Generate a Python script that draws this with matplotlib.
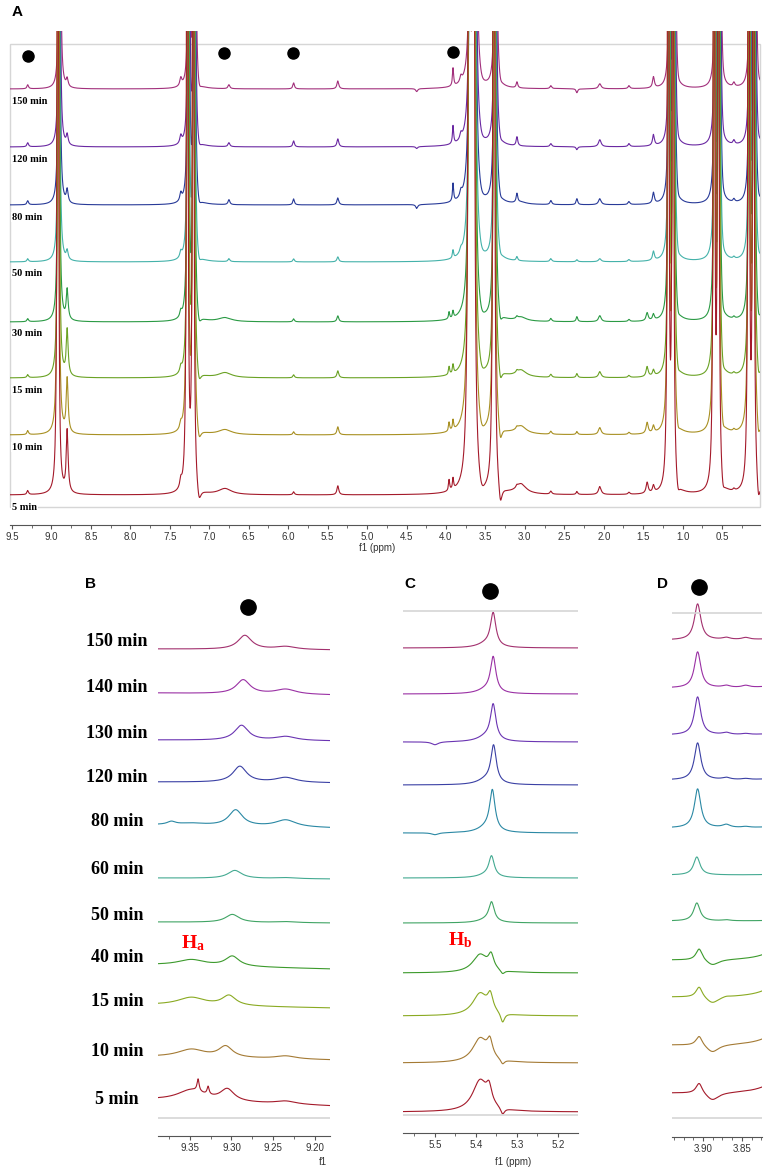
import numpy as np
import matplotlib.pyplot as plt
from matplotlib.patches import Rectangle
from matplotlib.ticker import MultipleLocator, FormatStrFormatter

plt.rcParams['mathtext.fontset'] = 'custom'
plt.rcParams['mathtext.bf'] = 'Liberation Serif:bold'
plt.rcParams['mathtext.rm'] = 'Liberation Serif'

W, H = 765, 1168

# ---------------- panel A: full spectra ----------------
A_labels = ['150 min', '120 min', '80 min', '50 min', '30 min', '15 min', '10 min', '5 min']
A_base_px = [89, 147, 205, 262, 322, 378, 435, 495]
A_colors = ['#a2307c', '#6a28a2', '#283a98', '#44b2aa', '#2a9a44', '#6aa224', '#a89022', '#a41a2a']

# off-scale signals
A_big_ppm = [8.905, 7.265, 7.19, 3.69, 3.64, 3.38, 1.17, 1.11, 0.59, 0.535, 0.15, 0.09]
A_big_hw = [0.005, 0.005, 0.005, 0.008, 0.008, 0.006, 0.005, 0.005, 0.005, 0.005, 0.005, 0.005]
A_big_h = [2500, 2500, 2500, 2500, 2500, 2500, 2500, 2500, 2500, 2500, 2500, 2500]
A_big_scale = [0.6, 0.65, 0.7, 0.75, 0.8, 0.85, 0.92, 1.0]
A_shift = [-0.010, -0.006, -0.003, 0.0, 0.003, 0.006, 0.010, 0.014]

# small signals
A_small_ppm = [9.30, 8.80, 7.36, 7.13, 6.80, 6.75, 5.93, 5.37, 4.37, 3.96, 3.91, 3.81, 3.55,
               3.31, 3.10, 3.05, 2.67, 2.34, 2.05, 1.68, 1.45, 1.37, 1.06, 0.49, 0.35, 0.04]
A_small_hw = [0.012, 0.014, 0.015, 0.03, 0.10, 0.014, 0.012, 0.014, 0.015, 0.009, 0.009, 0.016, 0.05,
              0.025, 0.012, 0.08, 0.014, 0.012, 0.02, 0.014, 0.016, 0.014, 0.025, 0.025, 0.014, 0.02]
A_small_h = [
    [4, 8, 8, -10, 0, 4, 6, 8, -3, 0, 18, 6, -6, -5, 6, 0, 3, -4, 5, 3, 0, 11, -8, -6, 4, -8],
    [4, 10, 8, -10, 0, 4, 6, 8, -2, 0, 18, 6, -6, -5, 9, 0, 3, -3, 7, 3, 0, 11, -8, -6, 4, -8],
    [4, 13, 8, -10, 0, 5, 6, 7, -4, 0, 18, 6, -6, -5, 9, 2, 4, 6, 6, 3, 0, 11, -8, -6, 3, -8],
    [3, 9, 6, -10, 0, 3, 3, 5, 0, 0, 8, 4, -6, -5, 4, 0, 3, 2, 3, 2, 0, 9, -8, -6, 2, -8],
    [3, 30, 6, -12, 4, 0, 3, 6, 0, 7, 7, 0, -9, -11, 2, 4, 3, 5, 6, 2, 8, 6, -9, -8, 2, -11],
    [3, 46, 6, -14, 5, 0, 3, 7, 0, 8, 9, 0, -10, -14, 2, 7, 3, 4, 6, 2, 10, 6, -9, -9, 2, -13],
    [4, 54, 6, -15, 5, 0, 3, 8, 0, 9, 10, 0, -12, -17, 2, 8, 3, 3, 7, 2, 11, 7, -10, -11, 2, -15],
    [4, 62, 8, -16, 6, 0, 3, 9, 0, 11, 11, 0, -13, -20, 2, 10, 3, 3, 8, 2, 11, 7, -12, -12, 2, -18],
]
A_dot_ppm = [9.30, 6.81, 5.94, 3.91]
A_dot_px = [56, 53, 53, 52]

# ---------------- panels B, C, D: zoomed regions ----------------
BCD_labels = ['150 min', '140 min', '130 min', '120 min', '80 min', '60 min',
              '50 min', '40 min', '15 min', '10 min', '5 min']
BCD_colors = ['#a2306e', '#9a30a4', '#6a34b2', '#3a40a4', '#2a88a4', '#44aa92',
              '#40a464', '#3c9a2c', '#8aaa22', '#a47a34', '#a41a2a']
B_label_px = [642, 688, 733, 778, 822, 870, 915, 958, 1002, 1052, 1100]

B_base_px = [649, 693, 740, 782, 825, 878, 922, 965, 1005, 1057, 1100]
B_main_ppm = [9.284, 9.286, 9.288, 9.290, 9.295, 9.296, 9.299, 9.299, 9.303, 9.307, 9.305]
B_main_h = [14, 14, 15, 16, 16, 8, 8, 10, 10, 11, 12]
B_extra_ppm = [9.348, 9.340, 9.328, 9.235, 9.372]
B_extra_hw = [0.02, 0.0015, 0.0015, 0.015, 0.006]
B_extra_h = [
    [0, 0, 0, 3, 0], [0, 0, 0, 5, 0], [0, 0, 0, 4, 0], [0, 0, 0, 5, 0], [2, 0, 0, 7, 3],
    [0, 0, 0, 1, 0], [0, 0, 0, 1, 0], [6, 0, 0, 0, 0], [8, 0, 0, 0, 0], [8, 0, 0, 3, 0],
    [11, 12, 8, 3, 0],
]
B_tilt = [1, 2, 1, 1, 3, 1, 1, 4, 3, 3, 6]

C_base_px = [648, 694, 742, 785, 833, 878, 923, 973, 1016, 1063, 1112]
C_main_ppm = [5.358, 5.358, 5.358, 5.357, 5.360, 5.362, 5.362, 5.363, 5.365, 5.366, 5.368]
C_main_h = [33, 35, 35, 37, 40, 20, 19, 14, 16, 16, 16]
C_extra_ppm = [5.375, 5.39, 5.335, 5.50]
C_extra_hw = [0.025, 0.022, 0.006, 0.010]
C_extra_h = [
    [4, 0, 0, 0], [4, 0, 0, 0], [5, 0, 0, -3], [5, 0, 0, 0], [5, 0, 0, -2], [3, 0, 0, 0],
    [3, 0, 0, 0], [0, 18, -4, 0], [0, 22, -10, 0], [0, 24, -5, 0], [0, 31, -7, 0],
]

D_base_px = [640, 688, 735, 780, 828, 875, 921, 960, 997, 1045, 1093]
D_main_ppm = [3.907, 3.907, 3.907, 3.907, 3.907, 3.908, 3.908, 3.905, 3.905, 3.905, 3.905]
D_main_h = [36, 36, 38, 37, 39, 18, 18, 12, 11, 10, 11]
D_extra_ppm = [3.870, 3.845, 3.888, 3.80]
D_extra_hw = [0.006, 0.006, 0.010, 0.02]
D_extra_h = [
    [2, 2, 0, 2], [2, 2, 0, 3], [2, 1, 0, 2], [2, 1, 0, 2], [3, 1, 0, 2], [0, 0, 0, 1],
    [1, 0, 0, 1], [0, 0, -6, 13], [1, 0, -7, 15], [0, 0, -8, 15], [0, 0, -8, 15],
]


def lorentz(x, pos, hw, h):
    y = np.zeros_like(x)
    for p, w, a in zip(pos, hw, h):
        y += a * w ** 2 / ((x - p) ** 2 + w ** 2)
    return y


fig = plt.figure(figsize=(W / 100, H / 100), dpi=100)


def px_axes(x0, x1, ytop, ybot, xl, xr):
    ax = fig.add_axes([x0 / W, 1 - ybot / H, (x1 - x0) / W, (ybot - ytop) / H])
    ax.set_xlim(xl, xr)
    ax.set_ylim(0, ybot - ytop)
    for s in ['top', 'left', 'right']:
        ax.spines[s].set_visible(False)
    ax.spines['bottom'].set_color('#555555')
    ax.spines['bottom'].set_linewidth(0.8)
    ax.set_yticks([])
    ax.tick_params(axis='x', which='both', direction='out', colors='#555555',
                   labelcolor='#333333', labelsize=7, pad=2)
    ax.tick_params(axis='x', which='major', length=3)
    ax.tick_params(axis='x', which='minor', length=2)
    for lab in ax.get_xticklabels():
        lab.set_family('Liberation Sans')
    ax.patch.set_alpha(0)
    return ax


def ftext(x, y, s, **kw):
    fig.text(x / W, 1 - y / H, s, **kw)


# ---- A ----
A_ybot = 525
axA = px_axes(10, 760, 31, A_ybot, 9.525, 0.02)
axA.xaxis.set_major_locator(MultipleLocator(0.5))
axA.xaxis.set_minor_locator(MultipleLocator(0.25))
axA.xaxis.set_major_formatter(FormatStrFormatter('%.1f'))
axA.add_patch(Rectangle((9.525, A_ybot - 507), 0.02 - 9.525, 507 - 44, fill=False,
                        edgecolor='#d6d6d6', lw=1, clip_on=False, zorder=0))
xa = np.arange(0.02, 9.525, 0.0005)
for i in range(len(A_labels)):
    big_h = [h * A_big_scale[i] for h in A_big_h]
    big_p = [p + A_shift[i] for p in A_big_ppm]
    y = lorentz(xa, big_p, A_big_hw, big_h) + lorentz(xa, A_small_ppm, A_small_hw, A_small_h[i])
    axA.plot(xa, A_ybot - A_base_px[i] + y, color=A_colors[i], lw=0.8)
    ftext(12, A_base_px[i] + 12, A_labels[i], family='Liberation Serif', weight='bold',
          fontsize=7.5, ha='left', va='center',
          bbox=dict(facecolor='white', edgecolor='none', pad=0.5))
axA.plot(A_dot_ppm, [A_ybot - p for p in A_dot_px], 'o', color='black', ms=8, clip_on=False)
ftext(377, 548, 'f1 (ppm)', family='Liberation Sans', fontsize=7, color='#333333',
      ha='center', va='center')
ftext(12, 12, 'A', family='Liberation Sans', weight='bold', fontsize=11, ha='left', va='center')

# ---- B ----
B_ybot = 1136
axB = px_axes(158, 330, 595, B_ybot, 9.388, 9.182)
axB.xaxis.set_major_locator(MultipleLocator(0.05))
axB.xaxis.set_minor_locator(MultipleLocator(0.025))
axB.xaxis.set_major_formatter(FormatStrFormatter('%.2f'))
xb = np.linspace(9.388, 9.182, 1500)
frac_b = (9.388 - xb) / (9.388 - 9.182)
for i in range(len(BCD_labels)):
    y = lorentz(xb, [B_main_ppm[i]], [0.01], [B_main_h[i]])
    y += lorentz(xb, B_extra_ppm, B_extra_hw, B_extra_h[i])
    y -= B_tilt[i] * frac_b
    axB.plot(xb, B_ybot - B_base_px[i] + y, color=BCD_colors[i], lw=0.8)
    ftext(117, B_label_px[i], BCD_labels[i], family='Liberation Serif', weight='bold',
          fontsize=13, ha='center', va='center')
axB.plot([9.388, 9.182], [B_ybot - 1118] * 2, color='#d6d6d6', lw=1.2)
axB.plot([9.280], [B_ybot - 607], 'o', color='black', ms=11, clip_on=False)
ftext(323, 1162, 'f1', family='Liberation Sans', fontsize=7, color='#333333',
      ha='center', va='center')
ftext(90, 584, 'B', family='Liberation Sans', weight='bold', fontsize=11, ha='center', va='center')
ftext(193, 943, r'$\mathbf{H_a}$', color='red', fontsize=14, ha='center', va='center')

# ---- C ----
C_ybot = 1133
axC = px_axes(403, 578, 580, C_ybot, 5.578, 5.151)
axC.xaxis.set_major_locator(MultipleLocator(0.1))
axC.xaxis.set_minor_locator(MultipleLocator(0.05))
axC.xaxis.set_major_formatter(FormatStrFormatter('%.1f'))
xc = np.linspace(5.578, 5.151, 1500)
for i in range(len(BCD_labels)):
    y = lorentz(xc, [C_main_ppm[i]], [0.008], [C_main_h[i]])
    y += lorentz(xc, C_extra_ppm, C_extra_hw, C_extra_h[i])
    axC.plot(xc, C_ybot - C_base_px[i] + y, color=BCD_colors[i], lw=0.8)
axC.plot([5.578, 5.151], [C_ybot - 1115] * 2, color='#d6d6d6', lw=1.2)
axC.plot([5.578, 5.151], [C_ybot - 611] * 2, color='#d6d6d6', lw=1.2)
axC.plot([5.366], [C_ybot - 591], 'o', color='black', ms=11, clip_on=False)
ftext(513, 1162, 'f1 (ppm)', family='Liberation Sans', fontsize=7, color='#333333',
      ha='center', va='center')
ftext(410, 584, 'C', family='Liberation Sans', weight='bold', fontsize=11, ha='center', va='center')
ftext(460, 940, r'$\mathbf{H_b}$', color='red', fontsize=14, ha='center', va='center')

# ---- D ----
D_ybot = 1137
axD = px_axes(672, 762, 575, D_ybot, 3.940, 3.824)
axD.xaxis.set_major_locator(MultipleLocator(0.05))
axD.xaxis.set_minor_locator(MultipleLocator(0.0125))
axD.xaxis.set_major_formatter(FormatStrFormatter('%.2f'))
xd = np.linspace(3.940, 3.824, 1000)
for i in range(len(BCD_labels)):
    y = lorentz(xd, [D_main_ppm[i]], [0.005], [D_main_h[i]])
    y += lorentz(xd, D_extra_ppm, D_extra_hw, D_extra_h[i])
    axD.plot(xd, D_ybot - D_base_px[i] + y, color=BCD_colors[i], lw=0.8)
axD.plot([3.940, 3.824], [D_ybot - 1118] * 2, color='#d6d6d6', lw=1.2)
axD.plot([3.940, 3.824], [D_ybot - 613] * 2, color='#d6d6d6', lw=1.2)
axD.plot([3.905], [D_ybot - 587], 'o', color='black', ms=11, clip_on=False)
ftext(663, 584, 'D', family='Liberation Sans', weight='bold', fontsize=11, ha='center', va='center')

fig.savefig('out.png', dpi=100)
